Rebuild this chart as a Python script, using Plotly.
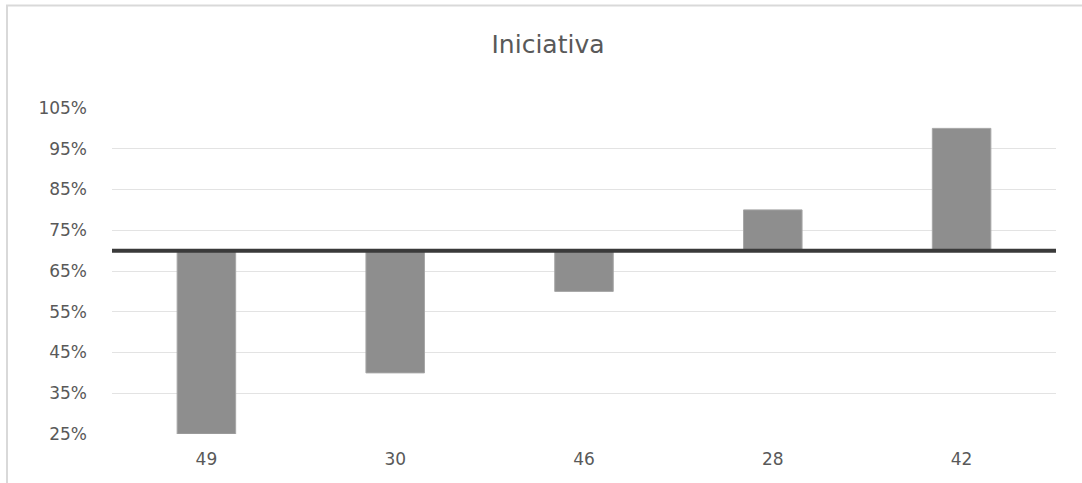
import plotly.graph_objects as go

# Data
categories = ["49", "30", "46", "28", "42"]
values = [0.25, 0.40, 0.60, 0.80, 1.00]
target = 0.70
tick_values = [0.25, 0.35, 0.45, 0.55, 0.65, 0.75, 0.85, 0.95, 1.05]
tick_labels = ["25%", "35%", "45%", "55%", "65%", "75%", "85%", "95%", "105%"]

W, H = 1082, 483
L, R, T, B = 112, 26, 108, 49
plot_w = W - L - R
plot_h = H - T - B

FONT = "DejaVu Sans"
TEXT_COLOR = "#595959"

fig = go.Figure()

# Bars hang from the target line up or down to each value
fig.add_trace(go.Bar(
    x=categories,
    y=[v - target for v in values],
    base=[target] * len(values),
    marker=dict(color="#8e8e8e", line=dict(color="#a6a6a6", width=1)),
    width=0.31,
    hoverinfo="skip",
))

# Target line across the full plot width
fig.add_shape(
    type="line", xref="paper", yref="y",
    x0=0, x1=1, y0=target, y1=target,
    line=dict(color="#3a3a3a", width=4),
    layer="above",
)

# Chart frame (left and top edges visible)
fig.add_shape(
    type="rect", xref="paper", yref="paper",
    x0=(7 - L) / plot_w, x1=(W + 20 - L) / plot_w,
    y0=-(B + 20) / plot_h, y1=(H - 5.5 - B) / plot_h,
    line=dict(color="#d9d9d9", width=2),
    fillcolor="rgba(0,0,0,0)",
    layer="below",
)

fig.update_layout(
    width=W, height=H,
    margin=dict(l=L, r=R, t=T, b=B),
    paper_bgcolor="white",
    plot_bgcolor="white",
    showlegend=False,
    title=dict(
        text="Iniciativa",
        x=548 / W, xanchor="center",
        y=1 - 44 / H, yanchor="middle",
        font=dict(family=FONT, size=25, color=TEXT_COLOR),
    ),
    font=dict(family=FONT, color=TEXT_COLOR),
)

fig.update_xaxes(
    type="category",
    showgrid=False,
    showline=False,
    zeroline=False,
    ticks="",
    tickfont=dict(family=FONT, size=17, color=TEXT_COLOR),
    ticklabelstandoff=13,
)

fig.update_yaxes(
    range=[0.25, 1.05],
    tickvals=tick_values,
    ticktext=tick_labels,
    showgrid=True,
    gridcolor="#e3e3e3",
    gridwidth=1,
    zeroline=False,
    showline=False,
    ticks="",
    tickfont=dict(family=FONT, size=17, color=TEXT_COLOR),
    ticklabelstandoff=24,
)

fig.write_html("out.html")
